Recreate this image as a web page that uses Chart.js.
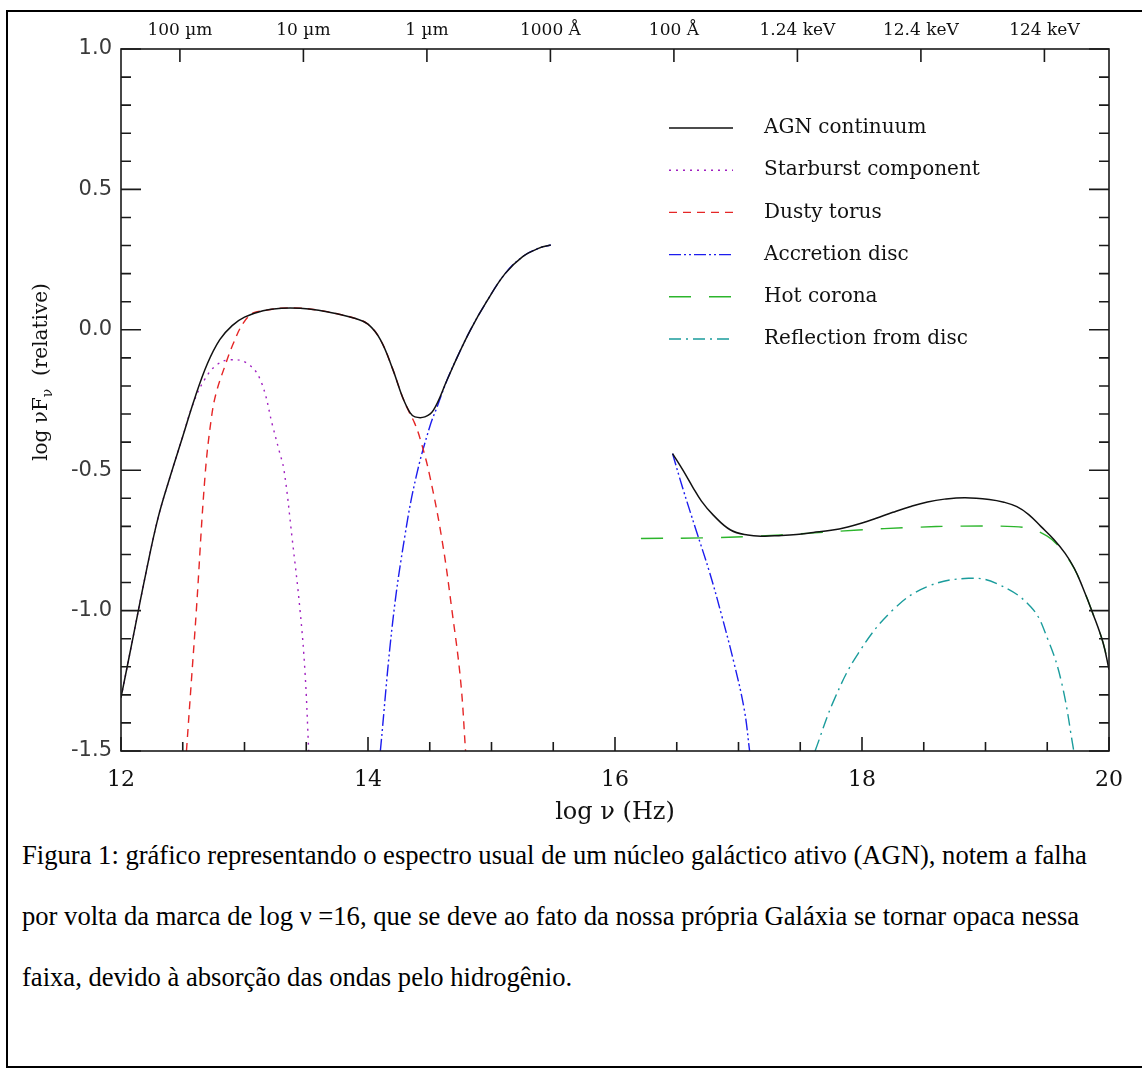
<!DOCTYPE html>
<html>
<head>
<meta charset="utf-8">
<script src="https://cdn.jsdelivr.net/npm/chart.js@4/dist/chart.umd.min.js"></script>
<style>
  html, body { margin: 0; padding: 0; background: #fff; }
  body { width: 1142px; height: 1070px; position: relative; overflow: hidden; }
  #frame { position: absolute; left: 6px; top: 10px; width: 1150px; height: 1058px; border: 2px solid #000; box-sizing: border-box; }
  #wrap { position: absolute; left: 0; top: 0; width: 1142px; height: 840px; }
  .cap { position: absolute; left: 22px; font-family: "Liberation Serif", serif; font-size: 26.6px; line-height: 30px; color: #000; white-space: nowrap; }
</style>
</head>
<body>
<div id="frame"></div>
<div id="wrap"><canvas id="sedChart" width="1142" height="840"></canvas></div>
<div class="cap" style="top:840px">Figura 1: gráfico representando o espectro usual de um núcleo galáctico ativo (AGN), notem a falha</div>
<div class="cap" style="top:901px">por volta da marca de log ν =16, que se deve ao fato da nossa própria Galáxia se tornar opaca nessa</div>
<div class="cap" style="top:962px">faixa, devido à absorção das ondas pelo hidrogênio.</div>
<script>
// log nu (Hz) / log nuF_nu values, null = gap
const agnX = [12.00, 12.10, 12.20, 12.30, 12.40, 12.50, 12.60, 12.70, 12.80, 12.90, 13.00, 13.15, 13.30, 13.45, 13.60, 13.75, 13.90, 14.00, 14.10, 14.20, 14.28, 14.34, 14.38, 14.46, 14.53, 14.64, 14.72, 14.83, 14.96, 15.11, 15.25, 15.38, 15.48,
  16.00,
  16.466, 16.55, 16.628, 16.70, 16.796, 16.936, 17.075, 17.20, 17.327, 17.47, 17.606, 17.75, 17.885, 18.00, 18.109, 18.25, 18.388, 18.53, 18.668, 18.835, 19.031, 19.15, 19.254, 19.35, 19.45, 19.55, 19.645, 19.72, 19.785, 19.869, 19.953, 20.00];
const agnY = [-1.31, -1.09, -0.87, -0.67, -0.52, -0.38, -0.24, -0.12, -0.035, 0.015, 0.045, 0.068, 0.077, 0.077, 0.07, 0.057, 0.04, 0.02, -0.035, -0.14, -0.24, -0.295, -0.31, -0.31, -0.286, -0.179, -0.10, 0.00, 0.10, 0.20, 0.26, 0.29, 0.302,
  null,
  -0.441, -0.50, -0.559, -0.61, -0.66, -0.713, -0.731, -0.735, -0.733, -0.729, -0.722, -0.714, -0.702, -0.688, -0.672, -0.650, -0.630, -0.613, -0.603, -0.598, -0.604, -0.614, -0.630, -0.658, -0.701, -0.745, -0.796, -0.85, -0.915, -1.01, -1.116, -1.21];

const starX = [12.00, 12.10, 12.20, 12.30, 12.40, 12.50, 12.585, 12.68, 12.775, 12.88, 13.02, 13.13, 13.23, 13.28, 13.32, 13.385, 13.45, 13.49, 13.52];
const starY = [-1.31, -1.09, -0.87, -0.67, -0.52, -0.38, -0.262, -0.175, -0.125, -0.107, -0.119, -0.18, -0.346, -0.43, -0.50, -0.74, -1.00, -1.22, -1.50];

const torusX = [12.53, 12.57, 12.61, 12.68, 12.73, 12.77, 12.84, 12.91, 12.99, 13.07, 13.15, 13.30, 13.45, 13.60, 13.75, 13.90, 14.00, 14.10, 14.20, 14.28, 14.33, 14.38, 14.43, 14.50, 14.60, 14.68, 14.75, 14.79];
const torusY = [-1.50, -1.25, -1.00, -0.523, -0.32, -0.226, -0.131, -0.048, 0.024, 0.06, 0.068, 0.077, 0.077, 0.07, 0.057, 0.04, 0.02, -0.035, -0.14, -0.24, -0.29, -0.335, -0.40, -0.52, -0.75, -1.00, -1.25, -1.50];

const discX = [14.10, 14.20, 14.30, 14.39, 14.50, 14.56, 14.64, 14.72, 14.83, 14.96, 15.11, 15.25, 15.38, 15.48,
  16.00,
  16.466, 16.545, 16.656, 16.768, 16.866, 16.964, 17.047, 17.09];
const discY = [-1.50, -1.04, -0.73, -0.523, -0.345, -0.274, -0.179, -0.10, 0.00, 0.10, 0.20, 0.26, 0.29, 0.302,
  null,
  -0.441, -0.559, -0.713, -0.867, -1.021, -1.187, -1.353, -1.50];

const coronaX = [16.21, 16.71, 17.13, 17.55, 17.97, 18.39, 18.81, 19.23, 19.37, 19.50, 19.58, 19.645, 19.72, 19.785, 19.869, 19.953, 20.00];
const coronaY = [-0.743, -0.741, -0.735, -0.725, -0.713, -0.704, -0.699, -0.701, -0.710, -0.735, -0.765, -0.80, -0.852, -0.915, -1.01, -1.116, -1.21];

const reflX = [17.62, 17.774, 17.97, 18.249, 18.528, 18.863, 19.087, 19.366, 19.506, 19.617, 19.715];
const reflY = [-1.50, -1.318, -1.152, -0.998, -0.915, -0.885, -0.903, -0.986, -1.104, -1.258, -1.50];

const seriesNames = ['AGN continuum', 'Starburst component', 'Dusty torus', 'Accretion disc', 'Hot corona', 'Reflection from disc'];

// top axis: wavelength / energy marks (log nu of 3e12 ... 3e19 Hz)
const topTickVals = [12.477, 13.477, 14.477, 15.477, 16.477, 17.477, 18.477, 19.477];
const topTickLabels = ['100 µm', '10 µm', '1 µm', '1000 Å', '100 Å', '1.24 keV', '12.4 keV', '124 keV'];

const pts = (xs, ys) => xs.map((x, i) => ({ x: x, y: ys[i] }));
const isMult = (v, s) => Math.abs(v / s - Math.round(v / s)) < 1e-6;

const serif = 'DejaVu Serif';

function line(label, xs, ys, color, dash, width) {
  return {
    label: label,
    data: pts(xs, ys),
    borderColor: color,
    borderDash: dash,
    borderWidth: width,
    pointRadius: 0,
    fill: false,
    spanGaps: false,
    tension: 0.4
  };
}

// frame, inward ticks, legend and y title
const decor = {
  id: 'decor',
  afterDatasetsDraw(chart) {
    const { ctx, chartArea: a, scales } = chart;
    ctx.save();
    ctx.strokeStyle = '#1a1a1a';
    ctx.lineWidth = 1.6;
    ctx.setLineDash([]);
    ctx.strokeRect(a.left, a.top, a.right - a.left, a.bottom - a.top);
    ctx.beginPath();
    scales.y.ticks.forEach(t => {
      const py = scales.y.getPixelForValue(t.value);
      const len = isMult(t.value, 0.5) ? 20 : 10;
      ctx.moveTo(a.left, py); ctx.lineTo(a.left + len, py);
      ctx.moveTo(a.right, py); ctx.lineTo(a.right - len, py);
    });
    scales.x.ticks.forEach(t => {
      const px = scales.x.getPixelForValue(t.value);
      const len = isMult(t.value, 2) ? 14 : 9;
      ctx.moveTo(px, a.bottom); ctx.lineTo(px, a.bottom - len);
    });
    scales.xTop.ticks.forEach(t => {
      const px = scales.xTop.getPixelForValue(t.value);
      ctx.moveTo(px, a.top); ctx.lineTo(px, a.top + 13);
    });
    ctx.stroke();
    ctx.restore();
  },
  afterDraw(chart) {
    const { ctx } = chart;
    ctx.save();
    // legend
    chart.data.datasets.forEach((ds, i) => {
      const y = 128 + i * 42.2;
      ctx.strokeStyle = ds.borderColor;
      ctx.lineWidth = ds.borderWidth;
      ctx.setLineDash(ds.borderDash);
      ctx.beginPath();
      ctx.moveTo(669, y); ctx.lineTo(733, y);
      ctx.stroke();
      ctx.setLineDash([]);
      ctx.fillStyle = '#111';
      ctx.font = '20px "' + serif + '"';
      ctx.textBaseline = 'middle';
      ctx.textAlign = 'left';
      ctx.fillText(ds.label, 764, y);
    });
    // y axis title with subscript
    ctx.translate(42, 372);
    ctx.rotate(-Math.PI / 2);
    ctx.fillStyle = '#111';
    ctx.textBaseline = 'middle';
    ctx.textAlign = 'left';
    const big = '20px "' + serif + '"', small = '14px "' + serif + '"';
    ctx.font = big;
    const w1 = ctx.measureText('log νF').width;
    const w3 = ctx.measureText('  (relative)').width;
    ctx.font = small;
    const w2 = ctx.measureText('ν').width;
    let x0 = -(w1 + w2 + w3) / 2;
    ctx.font = big;
    ctx.fillText('log νF', x0, 0);
    ctx.font = small;
    ctx.fillText('ν', x0 + w1, 6);
    ctx.font = big;
    ctx.fillText('  (relative)', x0 + w1 + w2, 0);
    ctx.restore();
  }
};

new Chart(document.getElementById('sedChart'), {
  type: 'line',
  data: {
    datasets: [
      line(seriesNames[0], agnX, agnY, '#111111', [], 1.5),
      line(seriesNames[1], starX, starY, '#a020c0', [2, 5], 1.4),
      line(seriesNames[2], torusX, torusY, '#e52626', [8, 6], 1.4),
      line(seriesNames[3], discX, discY, '#1c1cee', [12, 3, 2, 3, 2, 3], 1.4),
      line(seriesNames[4], coronaX, coronaY, '#2cb52c', [22, 18], 1.4),
      line(seriesNames[5], reflX, reflY, '#1a9c9c', [12, 5, 2, 5], 1.4)
    ]
  },
  options: {
    responsive: false,
    animation: false,
    layout: { padding: { left: 0, top: 0, right: 33, bottom: 0 } },
    scales: {
      x: {
        type: 'linear',
        position: 'bottom',
        min: 12, max: 20,
        grid: { display: false, drawTicks: false },
        border: { display: false },
        ticks: {
          stepSize: 0.5, maxTicksLimit: 100, autoSkip: false, maxRotation: 0,
          padding: 16,
          color: '#111',
          font: { family: serif, size: 22 },
          callback: v => isMult(v, 2) ? String(Math.round(v)) : ''
        },
        title: {
          display: true, text: 'log ν (Hz)', color: '#111',
          font: { family: serif, size: 24 },
          padding: { top: 0, bottom: 13 }
        },
        afterFit: s => { s.height = 89; }
      },
      xTop: {
        type: 'linear',
        position: 'top',
        min: 12, max: 20,
        grid: { display: false, drawTicks: false },
        border: { display: false },
        afterBuildTicks: s => { s.ticks = topTickVals.map(v => ({ value: v })); },
        ticks: {
          autoSkip: false, maxRotation: 0,
          padding: 8,
          color: '#111',
          font: { family: serif, size: 17 },
          callback: (v, i) => topTickLabels[i]
        },
        afterFit: s => { s.height = 49; }
      },
      y: {
        min: -1.5, max: 1.0,
        grid: { display: false, drawTicks: false },
        border: { display: false },
        ticks: {
          stepSize: 0.1, maxTicksLimit: 100, autoSkip: false,
          padding: 9,
          color: '#3a3a3a',
          font: { family: 'DejaVu Sans', size: 21 },
          callback: v => isMult(v, 0.5) ? v.toFixed(1) : ''
        },
        afterFit: s => { s.width = 121; }
      }
    },
    plugins: {
      legend: { display: false },
      tooltip: { enabled: false }
    }
  },
  plugins: [decor]
});
</script>
</body>
</html>
